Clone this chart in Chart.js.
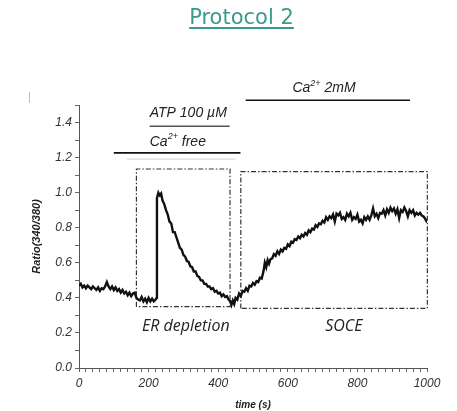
<!DOCTYPE html>
<html>
<head>
<meta charset="utf-8">
<script src="https://cdn.jsdelivr.net/npm/chart.js@4"></script>
<style>
  body { margin: 0; background: #fff; }
  #wrap { position: relative; width: 457px; height: 411px; }
  #title {
    position: absolute; top: 5px; left: 13px; width: 457px; text-align: center;
    font-family: "DejaVu Sans", sans-serif; font-size: 21px; color: #3a9a8b;
    text-decoration: underline; text-underline-offset: 3px;
  }
  #mark { position: absolute; left: 29px; top: 92px; width: 1px; height: 11px; background: #bbb; }
</style>
</head>
<body>
<div id="wrap">
  <canvas id="chart" width="457" height="411"></canvas>
  <div id="title">Protocol 2</div>
  <div id="mark"></div>
</div>
<script>
// time (s) and fura-2 ratio
const times = [0, 5, 10, 15, 20, 25, 30, 35, 40, 45, 50, 55, 60, 65, 70, 75, 80, 85, 90, 95,
  100, 105, 110, 115, 120, 125, 130, 135, 140, 145, 150, 155, 160, 165, 170, 175, 180, 185, 190, 195,
  200, 205, 210, 215, 220, 223, 224, 228, 232, 236, 240, 245, 250, 255, 260, 265, 270, 275, 280, 285,
  290, 295, 300, 305, 310, 315, 320, 325, 330, 335, 340, 345, 350, 355, 360, 365, 370, 375, 380, 385,
  390, 395, 400, 405, 410, 415, 420, 425, 430, 435, 438, 442, 446, 450, 455, 460, 465, 470, 475, 480,
  485, 490, 495, 500, 505, 510, 515, 520, 525, 530, 534, 538, 542, 546, 550, 555, 560, 565, 570, 575,
  580, 585, 590, 595, 600, 605, 610, 615, 620, 625, 630, 635, 640, 645, 650, 655, 660, 665, 670, 675,
  680, 685, 690, 695, 700, 705, 710, 715, 720, 725, 730, 735, 740, 745, 750, 755, 760, 765, 770, 775,
  780, 785, 790, 795, 800, 805, 810, 815, 820, 825, 830, 835, 840, 845, 850, 855, 860, 865, 870, 875,
  880, 885, 890, 895, 900, 905, 910, 915, 920, 925, 930, 935, 940, 945, 950, 955, 960, 965, 970, 975,
  980, 985, 990, 995, 1000];
const ratio = [0.47, 0.48, 0.46, 0.47, 0.455, 0.47, 0.46, 0.45, 0.465, 0.455, 0.445, 0.46, 0.44, 0.455, 0.45, 0.465, 0.49, 0.465, 0.45, 0.465,
  0.445, 0.46, 0.44, 0.45, 0.43, 0.445, 0.425, 0.435, 0.415, 0.43, 0.41, 0.425, 0.43, 0.40, 0.39, 0.385, 0.405, 0.38, 0.395, 0.375,
  0.40, 0.38, 0.395, 0.38, 0.39, 0.40, 0.97, 1.0, 0.985, 0.995, 0.955, 0.935, 0.90, 0.875, 0.835, 0.825, 0.775, 0.775, 0.745, 0.715,
  0.685, 0.675, 0.645, 0.635, 0.61, 0.605, 0.58, 0.575, 0.55, 0.55, 0.525, 0.52, 0.50, 0.50, 0.48, 0.48, 0.465, 0.465, 0.45, 0.455,
  0.435, 0.44, 0.425, 0.43, 0.41, 0.42, 0.405, 0.41, 0.39, 0.38, 0.36, 0.385, 0.365, 0.40, 0.39, 0.425, 0.41, 0.44, 0.435, 0.455,
  0.44, 0.47, 0.465, 0.485, 0.475, 0.495, 0.49, 0.515, 0.51, 0.55, 0.60, 0.575, 0.615, 0.595, 0.62, 0.625, 0.65, 0.64, 0.665, 0.65,
  0.675, 0.665, 0.685, 0.68, 0.705, 0.695, 0.72, 0.715, 0.735, 0.73, 0.75, 0.74, 0.76, 0.75, 0.77, 0.76, 0.785, 0.775, 0.795, 0.79,
  0.815, 0.805, 0.825, 0.82, 0.84, 0.83, 0.86, 0.845, 0.865, 0.855, 0.875, 0.835, 0.88, 0.87, 0.885, 0.85, 0.86, 0.845, 0.88, 0.865,
  0.885, 0.845, 0.86, 0.85, 0.875, 0.835, 0.845, 0.825, 0.86, 0.845, 0.865, 0.845, 0.87, 0.91, 0.865, 0.88, 0.855, 0.885, 0.88, 0.9,
  0.87, 0.905, 0.885, 0.915, 0.895, 0.91, 0.88, 0.905, 0.855, 0.9, 0.89, 0.915, 0.895, 0.865, 0.9, 0.885, 0.9, 0.87, 0.885, 0.875,
  0.885, 0.87, 0.865, 0.85, 0.83];

// dash-dot boxes: [tStart, tEnd, ratioLow, ratioHigh]
const boxes = [[165, 434, 0.35, 1.135], [465, 1001, 0.34, 1.12]];
const boxLabels = ['ER depletion', 'SOCE'];
const boxLabelPos = [[307, 0.235], [761, 0.235]];

// treatment bars above the trace: [tStart, tEnd, level]
const bars = [[100, 464, 1.227], [203, 433, 1.379], [479, 951, 1.527]];
const barColors = ['#111', '#555', '#111'];
// bar captions: [before superscript, superscript, after], position [t, ratio]
const barTexts = [['Ca', '2+', ' free'], ['ATP 100 \u00b5M', '', ''], ['Ca', '2+', ' 2mM']];
const barTextPos = [[284, 1.29], [314, 1.455], [704, 1.594]];

const yTicks = [0, 0.2, 0.4, 0.6, 0.8, 1.0, 1.2, 1.4];
const xTicks = [0, 200, 400, 600, 800, 1000];

const trace = times.map((t, i) => ({ x: t, y: ratio[i] }));

const datasets = [{
  data: trace, borderColor: '#111', borderWidth: 2.4, pointRadius: 0, tension: 0
}];
boxes.forEach(b => {
  datasets.push({
    data: [{x: b[0], y: b[2]}, {x: b[0], y: b[3]}, {x: b[1], y: b[3]}, {x: b[1], y: b[2]}, {x: b[0], y: b[2]}],
    borderColor: '#333', borderWidth: 1.2, borderDash: [5, 2, 1.5, 2], pointRadius: 0, clip: false
  });
});
bars.forEach((b, i) => {
  datasets.push({
    data: [{x: b[0], y: b[2]}, {x: b[1], y: b[2]}],
    borderColor: barColors[i], borderWidth: 1.6, pointRadius: 0, clip: false
  });
});
// faint line under the Ca2+ free bar
datasets.push({
  data: [{x: 137, y: 1.19}, {x: 450, y: 1.19}],
  borderColor: '#e2e2e2', borderWidth: 1.5, pointRadius: 0, clip: false
});

const textPlugin = {
  id: 'texts',
  afterDatasetsDraw(chart) {
    const ctx = chart.ctx, xs = chart.scales.x, ys = chart.scales.y;
    ctx.save();
    ctx.fillStyle = '#222';
    ctx.textBaseline = 'middle';
    ctx.font = 'italic 16px "Open Sans"';
    ctx.textAlign = 'center';
    boxLabels.forEach((s, i) => {
      ctx.fillText(s, xs.getPixelForValue(boxLabelPos[i][0]), ys.getPixelForValue(boxLabelPos[i][1]));
    });
    ctx.textAlign = 'left';
    barTexts.forEach((parts, i) => {
      const big = 'italic 14px "Liberation Sans"', small = 'italic 9px "Liberation Sans"';
      ctx.font = big; const w1 = ctx.measureText(parts[0]).width, w3 = ctx.measureText(parts[2]).width;
      ctx.font = small; const w2 = ctx.measureText(parts[1]).width;
      let x = xs.getPixelForValue(barTextPos[i][0]) - (w1 + w2 + w3) / 2;
      const y = ys.getPixelForValue(barTextPos[i][1]);
      ctx.font = big; ctx.fillText(parts[0], x, y); x += w1;
      ctx.font = small; ctx.fillText(parts[1], x, y - 5); x += w2;
      ctx.font = big; ctx.fillText(parts[2], x, y);
    });
    ctx.restore();
  }
};

new Chart(document.getElementById('chart'), {
  type: 'line',
  data: { datasets: datasets },
  plugins: [textPlugin],
  options: {
    responsive: false,
    animation: false,
    layout: { padding: { top: 105, right: 30, left: 0, bottom: 0 } },
    plugins: { legend: { display: false }, tooltip: { enabled: false } },
    scales: {
      x: {
        type: 'linear', min: 0, max: 1000,
        afterFit: s => { s.height = 43; },
        border: { color: '#555', width: 1 },
        grid: { drawOnChartArea: false, drawTicks: true, tickLength: 4, color: '#666' },
        ticks: {
          stepSize: 20, autoSkip: false, maxRotation: 0, padding: 4, color: '#333',
          font: { family: 'Liberation Sans', size: 12, style: 'italic' },
          callback: v => xTicks.includes(v) ? String(v) : ''
        },
        title: {
          display: true, text: 'time (s)', color: '#222', padding: { top: 0, bottom: 0 },
          font: { family: 'Liberation Sans', size: 10, style: 'italic', weight: 'bold' }
        }
      },
      y: {
        min: 0, max: 1.5,
        afterFit: s => { s.width = 79; },
        border: { color: '#555', width: 1 },
        grid: { drawOnChartArea: false, drawTicks: true, tickLength: 4, color: '#666' },
        ticks: {
          stepSize: 0.1, autoSkip: false, padding: 3, color: '#333',
          font: { family: 'Liberation Sans', size: 12, style: 'italic' },
          callback: v => {
            const r = Math.round(v * 10) / 10;
            return yTicks.some(t => Math.abs(t - r) < 1e-6) ? r.toFixed(1) : '';
          }
        },
        title: {
          display: true, text: 'Ratio(340/380)', color: '#222', padding: { top: 30, bottom: 0 },
          font: { family: 'Liberation Sans', size: 11, style: 'italic', weight: 'bold' }
        }
      }
    }
  }
});
</script>
</body>
</html>
